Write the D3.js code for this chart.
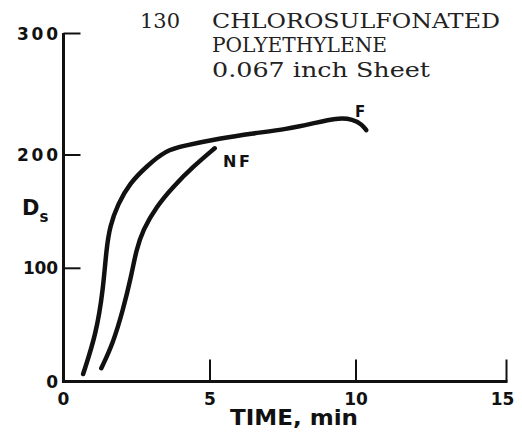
<!DOCTYPE html>
<html>
<head>
<meta charset="utf-8">
<script src="https://cdn.jsdelivr.net/npm/d3@7"></script>
<style>
html,body{margin:0;padding:0;background:#fff;}
svg{display:block;}
</style>
</head>
<body>
<script>
// ---- data ----
const xTicks = [0, 5, 10, 15];
const yTicks = [0, 100, 200, 300];
const xTickLabels = ["0", "5", "10", "15"];
const yTickLabels = ["0", "100", "200", "300"];
const titleNumber = "130";
const titleLines = ["CHLOROSULFONATED", "POLYETHYLENE", "0.067 inch Sheet"];
const xLabel = "TIME, min";
const yLabel = "D";
const yLabelSub = "s";
const seriesNames = ["F", "NF"];
const fTime = [0.67, 1.12, 1.35, 1.46, 1.58, 1.86, 2.26, 2.83, 3.51, 4.08, 5.34, 6.48, 7.63, 8.54, 9.34, 9.91, 10.20, 10.34];
const fDs   = [6.6, 42.6, 80.8, 116, 137, 157, 175, 190, 204, 207.4, 213.7, 217.8, 221.3, 226, 230.6, 229.5, 225, 220.5];
const nfTime = [1.29, 1.69, 2.03, 2.31, 2.48, 2.71, 3.17, 3.74, 4.42, 5.16];
const nfDs   = [11.7, 33.7, 63.2, 92.6, 116, 134, 154.4, 172, 189.7, 205.5];

// ---- layout ----
const W = 522, H = 435;
const svg = d3.select("body").append("svg").attr("width", W).attr("height", H)
  .style("background", "#fff");

// hand-drawn axes are slightly non-uniform: polylinear scales
const x = d3.scaleLinear().domain(xTicks).range([63.5, 210, 356, 506.5]);
const y = d3.scaleLinear().domain(yTicks).range([381.5, 268.3, 155, 33.5]);

const ink = "#111";
const boldFont = "'DejaVu Sans', sans-serif";

// axes lines
const ax = svg.append("g");
ax.append("line").attr("x1", x(0)).attr("x2", x(0)).attr("y1", y(300) - 0.5).attr("y2", y(0) + 1.5)
  .attr("stroke", ink).attr("stroke-width", 3);
ax.append("line").attr("x1", x(0) - 1.5).attr("x2", x(15) + 1).attr("y1", y(0)).attr("y2", y(0))
  .attr("stroke", ink).attr("stroke-width", 3);

// y ticks (inward, to the right)
ax.selectAll(".yt").data(yTicks.filter(d => d > 0)).join("line")
  .attr("x1", x(0)).attr("x2", x(0) + 17)
  .attr("y1", d => y(d)).attr("y2", d => y(d))
  .attr("stroke", ink).attr("stroke-width", 2);
// x ticks (inward, upward)
ax.selectAll(".xt").data(xTicks.filter(d => d > 0)).join("line")
  .attr("x1", d => x(d)).attr("x2", d => x(d))
  .attr("y1", y(0)).attr("y2", y(0) - 22)
  .attr("stroke", ink).attr("stroke-width", 2);

// y tick labels
ax.selectAll(".yl").data(yTicks).join("text")
  .attr("x", 58).attr("y", d => y(d) + 6)
  .attr("text-anchor", "end")
  .attr("font-family", boldFont).attr("font-weight", "bold").attr("font-size", 17)
  .attr("fill", ink)
  .attr("textLength", (d, i) => [12, 35, 41, 41][i])
  .attr("lengthAdjust", "spacing")
  .text((d, i) => yTickLabels[i]);

// x tick labels
ax.selectAll(".xl").data(xTicks).join("text")
  .attr("x", d => x(d) + (d === 15 ? -4 : 0)).attr("y", 405)
  .attr("text-anchor", "middle")
  .attr("font-family", boldFont).attr("font-weight", "bold").attr("font-size", 17)
  .attr("fill", ink)
  .text((d, i) => xTickLabels[i]);

// axis titles
svg.append("text").attr("x", 230).attr("y", 425)
  .attr("font-family", boldFont).attr("font-weight", "bold").attr("font-size", 21)
  .attr("textLength", 128).attr("lengthAdjust", "spacingAndGlyphs")
  .attr("fill", ink).text(xLabel);
const yl = svg.append("text").attr("x", 22).attr("y", 215)
  .attr("font-family", boldFont).attr("font-weight", "bold").attr("font-size", 21).attr("fill", ink);
yl.append("tspan").text(yLabel);
yl.append("tspan").attr("font-size", 15).attr("dy", 7).attr("dx", 0).text(yLabelSub);

// title (typewriter style)
const serif = "'DejaVu Serif', serif";
svg.append("text").attr("x", 140).attr("y", 28)
  .attr("font-family", serif).attr("font-size", 20.5).attr("fill", "#222")
  .attr("textLength", 40).attr("lengthAdjust", "spacingAndGlyphs").text(titleNumber);
const tl = [[28, 288], [51.5, 175], [77, 218]];
svg.selectAll(".tt").data(titleLines).join("text")
  .attr("x", 212).attr("y", (d, i) => tl[i][0])
  .attr("font-family", serif).attr("font-size", 20.5).attr("fill", "#222")
  .attr("textLength", (d, i) => tl[i][1]).attr("lengthAdjust", "spacingAndGlyphs")
  .text(d => d);

// curves
const line = d3.line().x(d => x(d[0])).y(d => y(d[1])).curve(d3.curveBasis);
const fData = fTime.map((t, i) => [t, fDs[i]]);
const nfData = nfTime.map((t, i) => [t, nfDs[i]]);
svg.selectAll(".curve").data([fData, nfData]).join("path")
  .attr("d", line).attr("fill", "none").attr("stroke", ink)
  .attr("stroke-width", 4.5).attr("stroke-linecap", "round").attr("stroke-linejoin", "round");

// curve labels
svg.append("text").attr("x", 355).attr("y", 117)
  .attr("font-family", boldFont).attr("font-weight", "bold").attr("font-size", 15).attr("fill", ink)
  .text(seriesNames[0]);
svg.append("text").attr("x", 223).attr("y", 167)
  .attr("font-family", boldFont).attr("font-weight", "bold").attr("font-size", 16).attr("fill", ink)
  .attr("textLength", 27).attr("lengthAdjust", "spacing")
  .text(seriesNames[1]);
</script>
</body>
</html>
